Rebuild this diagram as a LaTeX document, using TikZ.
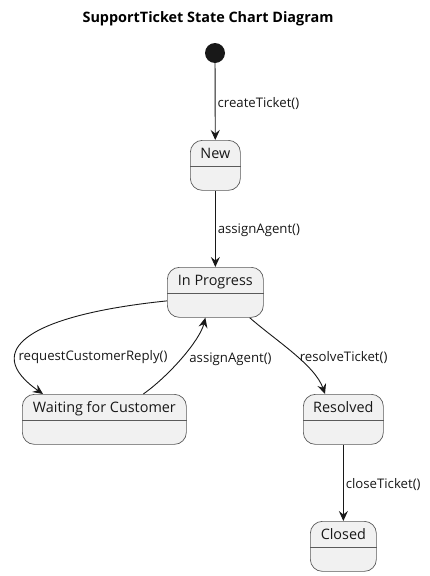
\documentclass[tikz,border=0pt]{standalone}
\usepackage{fontspec}
\setmainfont{Open Sans}
\usetikzlibrary{arrows.meta}
\definecolor{statefill}{HTML}{F1F1F1}
\definecolor{stateborder}{HTML}{5A5A5A}
\definecolor{ink}{HTML}{181818}
\begin{document}
\begin{tikzpicture}[x=1pt,y=-1pt,
  statebox/.style={draw=stateborder, fill=statefill, rounded corners=12pt, line width=0.7pt,
    inner sep=0pt, text height=18pt, text depth=32pt, anchor=north west,
    font=\fontsize{14.4}{17}\selectfont, text=ink},
  divider/.style={draw=stateborder, line width=0.7pt},
  edge/.style={draw=ink, line width=0.9pt, -{Stealth[length=10pt,width=9pt,inset=3.5pt]}},
  elabel/.style={font=\fontsize{13.2}{15}\selectfont, text=ink, inner sep=2pt},
  initstate/.style={circle, fill=ink, minimum size=20pt, inner sep=0pt}]
\useasboundingbox (0,0) rectangle (430,576);
\node[font=\bfseries\fontsize{14.4}{17}\selectfont, text=black] (title) at (208,19) {SupportTicket State Chart Diagram};
\node[initstate] (init) at (215,53) {};
\node[statebox, minimum width=50pt] (new) at (190,140) {New};
\node[statebox, minimum width=96pt] (ip) at (167,267) {In Progress};
\node[statebox, minimum width=164pt] (wt) at (22,394) {Waiting for Customer};
\node[statebox, minimum width=80pt] (res) at (303,394) {Resolved};
\node[statebox, minimum width=66pt] (cl) at (310,521) {Closed};
\foreach \n in {new,ip,wt,res,cl}{
  \draw[divider] ([yshift=-26pt]\n.north west) -- ([yshift=-26pt]\n.north east);
}
\draw[edge] (init) -- node[elabel, right, pos=0.52] {createTicket()} (new);
\draw[edge] (new) -- node[elabel, right, pos=0.52] {assignAgent()} (ip);
\draw[edge] (ip.190) .. controls (30,315) and (-20,350) .. node[elabel, right, pos=0.7] {requestCustomerReply()} ([xshift=21pt]wt.north west);
\draw[edge] ([xshift=39pt]wt.north) .. controls (170,375) and (200,340) .. node[elabel, right, pos=0.48, xshift=6pt] {assignAgent()} ([xshift=-10pt]ip.south);
\draw[edge] ([xshift=-14pt]ip.south east) .. controls (275,340) and (315,365) .. node[elabel, right, pos=0.55] {resolveTicket()} ([xshift=22pt]res.north west);
\draw[edge] (res) -- node[elabel, right, pos=0.52] {closeTicket()} (cl);
\end{tikzpicture}
\end{document}
